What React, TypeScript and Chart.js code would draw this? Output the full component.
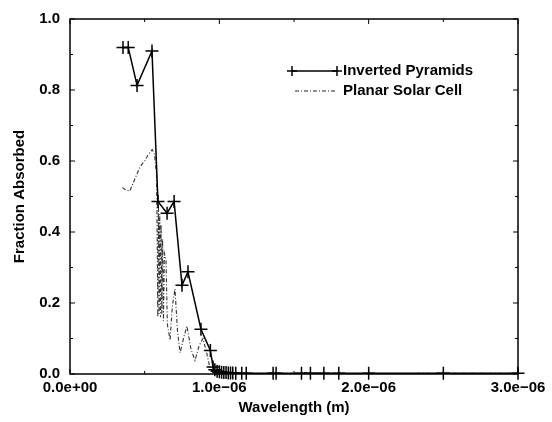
import React, { useEffect, useRef } from "react";
import { Chart, registerables } from "chart.js";

Chart.register(...registerables);

const seriesNames = ["Inverted Pyramids", "Planar Solar Cell"];
const xTitle = "Wavelength (m)";
const yTitle = "Fraction Absorbed";

const xTickValues = [0, 1e-6, 2e-6, 3e-6];
const xTickLabels = ["0.0e+00", "1.0e\u221206", "2.0e\u221206", "3.0e\u221206"];
const xMinorTicks = [0.5e-6, 1.5e-6, 2.5e-6];
const yTickValues = [0, 0.2, 0.4, 0.6, 0.8, 1.0];
const yTickLabels = ["0.0", "0.2", "0.4", "0.6", "0.8", "1.0"];
const yMinorTicks = [0.1, 0.3, 0.5, 0.7, 0.9];

const pyramidWavelength = [
  0.355e-6, 0.39e-6, 0.449e-6, 0.549e-6, 0.589e-6, 0.65e-6, 0.697e-6, 0.75e-6,
  0.79e-6, 0.877e-6, 0.94e-6, 0.958e-6, 0.97e-6, 0.985e-6, 1.0e-6, 1.015e-6,
  1.03e-6, 1.045e-6, 1.06e-6, 1.075e-6, 1.09e-6, 1.11e-6, 1.15e-6, 1.18e-6,
  1.36e-6, 1.38e-6, 1.55e-6, 1.61e-6, 1.7e-6, 1.8e-6, 2.0e-6, 2.5e-6, 3.0e-6,
];
const pyramidFraction = [
  0.92, 0.92, 0.813, 0.91, 0.486, 0.453, 0.486, 0.25,
  0.288, 0.126, 0.066, 0.02, 0.012, 0.008, 0.006, 0.005,
  0.004, 0.004, 0.003, 0.003, 0.003, 0.002, 0.002, 0.002,
  0.002, 0.002, 0.002, 0.002, 0.002, 0.002, 0.002, 0.002, 0.002,
];

const planarWavelength = [
  0.35e-6, 0.37e-6, 0.4e-6, 0.42e-6, 0.44e-6, 0.46e-6, 0.48e-6, 0.5e-6, 0.52e-6,
  0.55e-6, 0.565e-6, 0.58e-6, 0.588e-6, 0.592e-6, 0.597e-6, 0.601e-6, 0.606e-6,
  0.61e-6, 0.615e-6, 0.62e-6, 0.626e-6, 0.632e-6, 0.643e-6, 0.652e-6, 0.66e-6,
  0.67e-6, 0.685e-6, 0.703e-6, 0.72e-6, 0.737e-6, 0.76e-6, 0.783e-6, 0.81e-6,
  0.837e-6, 0.865e-6, 0.89e-6, 0.915e-6, 0.94e-6, 0.97e-6, 1.0e-6, 1.1e-6,
  1.5e-6, 2.0e-6, 2.5e-6, 3.0e-6,
];
const planarFraction = [
  0.525, 0.52, 0.515, 0.535, 0.555, 0.575, 0.59, 0.6, 0.615,
  0.632, 0.62, 0.56, 0.16, 0.48, 0.17, 0.45, 0.16,
  0.42, 0.17, 0.38, 0.15, 0.34, 0.32, 0.14, 0.12,
  0.095, 0.19, 0.24, 0.12, 0.06, 0.1, 0.135, 0.07,
  0.038, 0.08, 0.1, 0.06, 0.012, 0.004, 0.002, 0.001,
  0.001, 0.001, 0.002, 0.002,
];

const FONT = "'Liberation Sans', Arial, Helvetica, sans-serif";

export default function App() {
  const ref = useRef<HTMLCanvasElement>(null);

  useEffect(() => {
    if (!ref.current) return;

    const drawCross = (ctx: CanvasRenderingContext2D, x: number, y: number, r: number) => {
      ctx.beginPath();
      ctx.moveTo(x - r, y);
      ctx.lineTo(x + r, y);
      ctx.moveTo(x, y - r);
      ctx.lineTo(x, y + r);
      ctx.stroke();
    };

    const framePlugin = {
      id: "frameAndLegend",
      afterDraw(chart: any) {
        const ctx: CanvasRenderingContext2D = chart.ctx;
        const { left, right, top, bottom } = chart.chartArea;
        const xs = chart.scales.x;
        const ys = chart.scales.y;
        ctx.save();
        ctx.strokeStyle = "#000";
        ctx.lineWidth = 1.5;
        ctx.strokeRect(left, top, right - left, bottom - top);
        ctx.lineWidth = 1;
        const tick = (arr: number[], len: number) => {
          for (const v of arr) {
            const px = xs.getPixelForValue(v);
            ctx.beginPath();
            ctx.moveTo(px, bottom);
            ctx.lineTo(px, bottom - len);
            ctx.moveTo(px, top);
            ctx.lineTo(px, top + len);
            ctx.stroke();
          }
        };
        const ytick = (arr: number[], len: number) => {
          for (const v of arr) {
            const py = ys.getPixelForValue(v);
            ctx.beginPath();
            ctx.moveTo(left, py);
            ctx.lineTo(left + len, py);
            ctx.moveTo(right, py);
            ctx.lineTo(right - len, py);
            ctx.stroke();
          }
        };
        tick(xTickValues, 5);
        tick(xMinorTicks, 3);
        ytick(yTickValues, 5);
        ytick(yMinorTicks, 3);

        // legend
        const lx0 = left + 222;
        const lx1 = left + 267;
        const ly0 = top + 52;
        const ly1 = top + 72;
        ctx.strokeStyle = "#000";
        ctx.lineWidth = 1.5;
        ctx.beginPath();
        ctx.moveTo(lx0, ly0);
        ctx.lineTo(lx1, ly0);
        ctx.stroke();
        drawCross(ctx, lx0, ly0, 5);
        drawCross(ctx, lx1, ly0, 5);
        ctx.strokeStyle = "#222";
        ctx.lineWidth = 1.2;
        ctx.setLineDash([4, 2, 1, 2]);
        ctx.beginPath();
        ctx.moveTo(lx0 + 3, ly1);
        ctx.lineTo(lx1, ly1);
        ctx.stroke();
        ctx.setLineDash([]);
        ctx.fillStyle = "#000";
        ctx.font = `bold 15px ${FONT}`;
        ctx.textAlign = "left";
        ctx.textBaseline = "middle";
        ctx.fillText(seriesNames[0], lx1 + 6, ly0);
        ctx.fillText(seriesNames[1], lx1 + 6, ly1);
        ctx.restore();
      },
    };

    const chart = new Chart(ref.current, {
      type: "scatter",
      data: {
        datasets: [
          {
            label: seriesNames[0],
            data: pyramidWavelength.map((x, i) => ({ x, y: pyramidFraction[i] })),
            showLine: true,
            borderColor: "#000",
            backgroundColor: "#000",
            borderWidth: 1.5,
            pointStyle: "cross",
            pointRadius: 6.5,
            pointBorderWidth: 1.5,
            pointBorderColor: "#000",
            clip: false,
          } as any,
          {
            label: seriesNames[1],
            data: planarWavelength.map((x, i) => ({ x, y: planarFraction[i] })),
            showLine: true,
            borderColor: "#333",
            borderWidth: 1.1,
            borderDash: [4, 2, 1, 2],
            pointRadius: 0,
          } as any,
        ],
      },
      options: {
        animation: false,
        responsive: false,
        layout: { padding: { top: 10, right: 34, left: 0, bottom: 0 } },
        plugins: { legend: { display: false }, tooltip: { enabled: false } },
        scales: {
          x: {
            type: "linear",
            min: 0,
            max: 3e-6,
            afterBuildTicks: (s: any) => {
              s.ticks = xTickValues.map((v) => ({ value: v }));
            },
            afterFit: (s: any) => {
              s.height = 48;
            },
            grid: { display: false, drawTicks: false },
            border: { display: false },
            ticks: {
              padding: 5,
              maxRotation: 0,
              autoSkip: false,
              color: "#000",
              font: { family: FONT, size: 15, weight: "bold" },
              callback: (_v: any, i: number) => xTickLabels[i],
            },
            title: {
              display: true,
              text: xTitle,
              color: "#000",
              font: { family: FONT, size: 15, weight: "bold" },
              padding: { top: 0, bottom: 5 },
            },
          },
          y: {
            type: "linear",
            min: 0,
            max: 1,
            afterBuildTicks: (s: any) => {
              s.ticks = yTickValues.map((v) => ({ value: v }));
            },
            afterFit: (s: any) => {
              s.width = 70;
            },
            grid: { display: false, drawTicks: false },
            border: { display: false },
            ticks: {
              padding: 10,
              color: "#000",
              font: { family: FONT, size: 15, weight: "bold" },
              callback: (_v: any, i: number) => yTickLabels[i],
            },
            title: {
              display: true,
              text: yTitle,
              color: "#000",
              font: { family: FONT, size: 15, weight: "bold" },
              padding: { top: 11, bottom: 0 },
            },
          },
        },
      } as any,
      plugins: [framePlugin],
    });

    return () => chart.destroy();
  }, []);

  return (
    <div style={{ position: "fixed", left: 0, top: 0, width: 552, height: 422, background: "#fff" }}>
      <canvas ref={ref} width={552} height={422} style={{ display: "block" }} />
    </div>
  );
}
